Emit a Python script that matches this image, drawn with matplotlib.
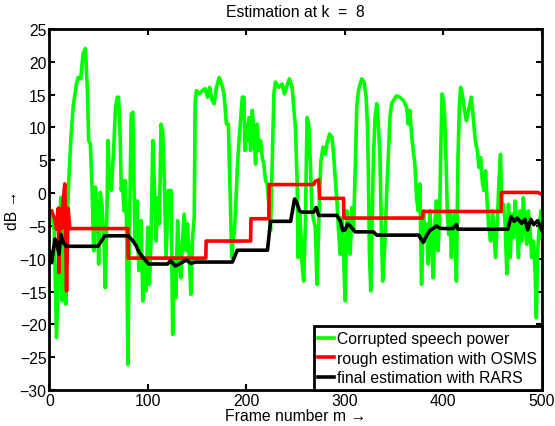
import matplotlib
matplotlib.use("Agg")
import matplotlib.pyplot as plt

plt.rcParams['font.family'] = ['Liberation Sans', 'DejaVu Sans']

# ---- data (frame number, dB) ----
speech_frames = [
    2.2, 4.9, 7.2, 9.6, 11.6, 13.0, 15.0, 16.7, 18.4, 19.7, 21.7, 24.1, 27.5, 29.2, 31.8, 34.2, 36.6, 38.6,
    39.9, 41.6, 43.3, 45.0, 46.7, 48.7, 50.0, 51.7, 53.4, 55.4, 56.8, 58.5, 59.5, 61.2, 62.9, 65.2, 67.2,
    68.9, 70.3, 72.0, 73.0, 74.3, 75.7, 77.0, 78.4, 79.7, 81.4, 83.1, 84.8, 85.8, 87.1, 89.1, 90.8, 93.2,
    94.9, 96.6, 98.2, 99.9, 101.6, 103.3, 105.0, 106.7, 108.4, 110.0, 111.7, 113.4, 115.1, 116.8, 118.5,
    120.8, 122.8, 123.5, 125.2, 126.9, 128.5, 130.2, 131.9, 133.6, 135.3, 137.0, 138.7, 140.3, 142.0,
    143.7, 145.4, 147.1, 148.1, 149.4, 152.1, 155.5, 158.2, 160.6, 162.9, 164.9, 167.3, 169.7, 172.4,
    175.0, 177.4, 179.8, 181.8, 183.5, 185.2, 186.5, 187.9, 189.2, 190.9, 192.6, 194.3, 195.9, 197.6,
    198.6, 200.0, 201.3, 202.7, 204.4, 206.1, 207.7, 209.4, 211.1, 212.8, 214.5, 216.2, 217.8, 219.5,
    221.2, 222.9, 224.6, 226.3, 228.0, 229.6, 233.0, 236.4, 238.7, 241.4, 243.8, 246.5, 248.2, 249.9,
    251.6, 252.6, 254.3, 255.6, 256.6, 258.3, 260.0, 261.7, 263.4, 265.1, 266.7, 268.4, 270.1, 271.8,
    273.5, 274.5, 275.8, 277.9, 280.2, 281.9, 284.6, 287.0, 288.6, 290.3, 292.0, 293.7, 295.4, 297.1,
    298.8, 300.4, 302.1, 303.8, 305.5, 307.2, 308.9, 310.5, 312.2, 313.9, 315.6, 317.3, 319.6, 321.7,
    323.0, 324.0, 325.0, 326.4, 327.7, 329.1, 330.8, 332.5, 334.1, 335.8, 337.2, 338.5, 340.9, 342.6,
    344.2, 345.9, 347.6, 349.3, 352.7, 356.0, 359.4, 362.8, 364.5, 366.2, 367.8, 369.5, 371.2, 372.9,
    374.6, 376.3, 378.0, 380.0, 381.3, 383.0, 384.7, 386.4, 388.1, 389.8, 391.5, 393.1, 394.8, 396.5,
    397.5, 398.9, 400.2, 401.6, 403.2, 404.3, 405.6, 407.0, 408.3, 410.0, 411.7, 413.4, 415.0, 416.4,
    417.7, 419.4, 421.1, 423.5, 425.8, 428.5, 430.5, 432.6, 434.6, 436.3, 438.0, 439.6, 441.3, 443.0,
    444.4, 446.0, 448.1, 450.1, 451.4, 453.1, 454.8, 456.5, 458.2, 459.5, 461.2, 462.9, 464.6, 466.3,
    468.0, 469.6, 471.3, 473.0, 474.7, 476.4, 478.1, 479.7, 481.4, 483.1, 484.8, 486.5, 488.2, 489.9,
    491.5, 493.2, 494.6, 495.9, 497.6, 499.3, 500.0]
speech_db = [
    -2.7, -5.7, -22.0, -9.8, -0.7, -16.4, -4.7, -16.9, -2.7, 1.9, 8.0, 13.1, 16.6, 17.6, 17.4, 21.2, 22.0, 15.6,
    8.0, 7.5, 0.9, -8.8, 0.9, -2.7, -10.8, 0.1, -1.7, -7.3, -14.4, -2.7, 8.0, 1.9, 0.4, 6.5, 13.1,
    14.6, 14.6, 8.0, 0.4, 1.9, -2.7, 1.9, -4.7, -26.1, -4.7, 12.0, 12.3, 1.9, -7.3, -1.2, -11.8, -4.2,
    -16.4, -9.8, -14.9, -5.2, -13.9, -6.8, 8.0, 0.9, -7.3, -0.7, -4.7, 10.5, 9.5, 1.4, -9.8,
    0.4, -2.7, 0.4, -21.5, -9.8, -15.9, -4.2, -10.8, -12.9, -6.8, -3.2, -8.8, -4.7, -9.8,
    -15.4, -6.8, -3.7, 14.1, 15.6, 15.1, 15.6, 15.9, 14.6, 16.1, 14.3, 13.6, 16.1, 17.6,
    16.6, 15.1, 10.5, 10.5, 0.4, -9.8, -7.3, -5.7, -2.2, 3.9, 8.0, 11.5, 14.6, 14.6,
    6.5, 10.5, 8.0, 11.5, 6.5, 12.6, 9.5, 4.4, 10.5, 6.5, 8.0, 5.4, 4.4, 1.9,
    1.4, -1.7, -5.7, 4.4, 15.1, 16.9, 16.1, 16.6, 15.1, 16.4, 17.4, 16.1, 13.1, 10.0,
    1.9, -9.8, -3.2, -6.8, -10.8, -13.4, -4.7, 11.5, 10.5, 4.4, -2.7, -4.2, -5.2, -13.9,
    -5.7, 0.4, 4.9, 7.0, 5.9, 7.5, 9.0, 8.5, 5.9, 2.4, -1.2, -5.7, -9.3, -3.7,
    -9.8, -16.4, -2.7, -4.7, -9.3, -2.2, -5.7, 2.9, 13.1, 15.6, 16.6, 17.4, 16.9, 14.6,
    10.5, 2.9, -8.8, -14.9, -4.7, 5.4, 11.5, 13.6, 10.5, 5.4, -5.7, -13.4, -7.3, 0.4,
    5.4, 11.5, 13.6, 14.1, 14.8, 14.6, 14.1, 13.1, 10.5, 12.6, 9.0, 6.5, 4.4, -0.7,
    -2.7, 1.4, -13.9, -2.7, -7.3, -4.7, -10.8, -2.7, -7.3, -12.9, -4.7, -1.2, -8.8, -2.7,
    6.5, 15.1, 14.1, 11.5, 2.9, -3.7, -6.3, -2.7, -9.8, -4.7, -2.7, -13.4, 5.4, 13.1,
    16.1, 15.1, 13.1, 11.0, 12.6, 14.6, 11.5, 8.0, 6.5, 3.9, 5.4, 1.9, 0.4, 3.4,
    -0.7, -4.7, -7.3, -2.7, -5.7, -9.8, -4.7, 1.4, 5.9, -2.7, -1.7, -4.7, -12.3, -1.7,
    -9.8, -3.2, -6.8, -1.2, -4.7, -9.8, -2.7, -7.3, -0.7, -4.7, -7.8, -2.7, -5.7, -9.8,
    -7.3, -11.3, -19.0, -8.8, -4.7, -2.7, -6.8]

osms_frames = [0.5, 2.2, 5.6, 7.3, 9.0, 9.7, 10.7, 12.4, 14.0, 15.7, 17.4, 19.0, 20.8, 79.7, 80.0,
               158.9, 159.2, 204.4, 204.7, 222.9, 223.2, 268.4, 270.0, 273.5, 274.5, 298.8, 299.1,
               379.0, 379.7, 458.9, 459.3, 496.0, 500.0]
osms_db = [-2.7, -2.7, -4.0, -5.5, -2.3, -12.1, -2.3, -5.4, -0.9, 1.4, -14.9, -2.3, -5.4, -5.4, -9.9,
           -9.9, -7.3, -7.3, -3.9, -3.9, 1.3, 1.3, 1.8, 2.0, -0.8, -0.8, -3.8,
           -3.8, -2.8, -2.8, 0.1, 0.1, -0.2]

rars_frames = [0.5, 2.2, 5.6, 7.3, 9.7, 11.7, 14.0, 17.0, 49.4, 56.1, 80.0, 85.0, 88.0, 91.0, 96.0, 101.0,
               120.0, 123.0, 128.0, 133.0, 139.0, 144.0, 148.0, 185.8, 190.9, 221.5, 224.6, 245.0,
               249.0, 251.6, 254.0, 256.6, 268.4, 271.0, 273.5, 292.0, 295.4, 298.0, 300.4, 303.0,
               305.5, 310.5, 329.0, 332.5, 375.0, 379.7, 383.0, 386.4, 389.8, 393.1, 396.0, 399.0,
               410.0, 413.4, 415.0, 465.6, 469.0, 472.0, 475.0, 479.7, 483.0, 485.8, 489.0, 492.0,
               495.9, 500.0]
rars_db = [-9.0, -10.6, -7.0, -7.5, -9.3, -6.3, -7.5, -8.1, -8.1, -6.5, -6.5, -7.3, -8.0, -9.0, -10.0, -10.8,
           -10.8, -10.3, -11.1, -10.7, -10.2, -10.7, -10.5, -10.5, -8.7, -8.7, -4.3, -4.3,
           -0.9, -1.6, -2.7, -2.9, -2.9, -2.2, -3.4, -3.4, -4.2, -5.7, -5.6, -4.7,
           -5.0, -5.9, -5.9, -6.4, -6.4, -7.5, -6.5, -5.7, -5.4, -5.0, -5.3, -5.4,
           -5.4, -4.8, -5.5, -5.5, -3.6, -4.3, -3.8, -4.6, -4.0, -5.6, -4.0, -4.8,
           -4.2, -5.6]

legend_labels = ["Corrupted speech power", "rough estimation with OSMS", "final estimation with RARS"]
x_ticks = [0, 100, 200, 300, 400, 500]
y_ticks = [-30, -25, -20, -15, -10, -5, 0, 5, 10, 15, 20, 25]

fig = plt.figure(figsize=(5.55, 4.27), dpi=100)
ax = fig.add_axes([0.089, 0.084, 0.887, 0.846])

lw = 2.6
ax.plot(speech_frames, speech_db, color=(0, 1, 0), lw=lw, label=legend_labels[0], solid_joinstyle='round')
ax.plot(osms_frames, osms_db, color=(1, 0, 0), lw=lw, label=legend_labels[1])
ax.plot(rars_frames, rars_db, color='black', lw=lw, label=legend_labels[2])

ax.set_xlim(0, 500)
ax.set_ylim(-30, 25)
ax.set_xticks(x_ticks)
ax.set_yticks(y_ticks)
ax.tick_params(direction='in', length=4, width=1.5, top=True, right=True, labelsize=11.3, pad=2)
for s in ax.spines.values():
    s.set_linewidth(2.0)

ax.set_title("Estimation at k  =  8", fontsize=11.3, pad=9)
ax.set_xlabel("Frame number m \u2192", fontsize=11.3, labelpad=0)
ax.set_ylabel("dB \u2192", fontsize=11.3, labelpad=0)

leg = ax.legend(loc='lower right', borderaxespad=0.0, fontsize=11.3, handlelength=1.0,
                handletextpad=0.2, labelspacing=0.3, borderpad=0.3, fancybox=False,
                framealpha=1.0, edgecolor='black')
leg.get_frame().set_linewidth(2.0)

fig.savefig("out.png", dpi=100)
